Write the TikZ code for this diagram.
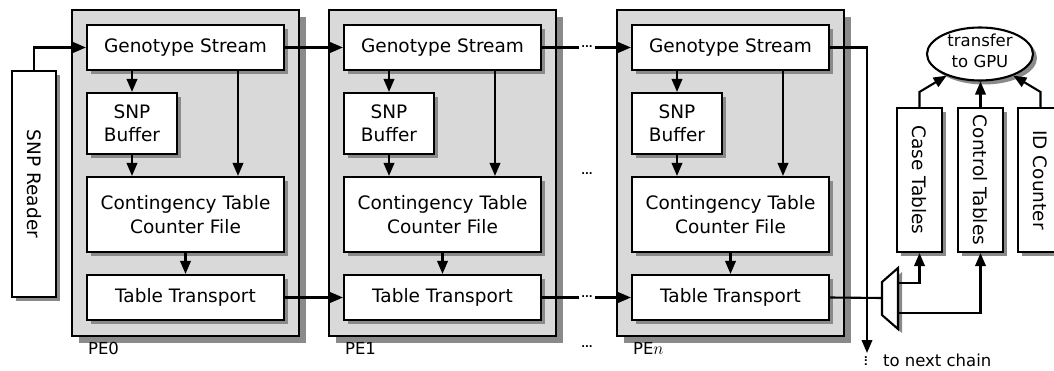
\documentclass[tikz,border=0pt]{standalone}
\usepackage{fontspec}
\setmainfont{DejaVu Sans}
\usetikzlibrary{arrows.meta,shapes.geometric,shadows,calc}
\definecolor{pegrey}{HTML}{D9D9D9}
\definecolor{shadowgrey}{HTML}{8A8A8A}
\begin{document}
\begin{tikzpicture}[x=1pt,y=-1pt,
  line width=2.1pt,
  >={Triangle[length=13pt,width=10.5pt]},
  mainfont/.style={font=\fontsize{18.5}{23.5}\selectfont},
  smallfont/.style={font=\fontsize{16.5}{21}\selectfont},
  smallshadow/.style={drop shadow={shadow xshift=4pt, shadow yshift=-4pt, fill=shadowgrey, opacity=1}},
  box/.style={draw, fill=white, inner sep=0pt, mainfont, align=center, smallshadow},
  pebox/.style={draw, fill=pegrey, inner sep=0pt, minimum width=227pt, minimum height=326pt,
    drop shadow={shadow xshift=7pt, shadow yshift=-7pt, fill=shadowgrey, opacity=1}},
  pelabel/.style={smallfont, inner sep=0pt, anchor=base west},
  dotsnode/.style={font=\fontsize{10}{10}\selectfont\bfseries, inner sep=1.5pt},
  vtext/.style={mainfont, rotate=-90, inner sep=0pt}
]
\path[use as bounding box, clip] (0,0) rectangle (1054,371);
\fill[white] (0,0) rectangle (1054,371);

% SNP reader
\node[box, minimum width=44pt, minimum height=226pt] (reader) at (34,184) {};
\node[vtext] (readertext) at (reader) {SNP Reader};

% processing elements
\foreach \i/\dx/\lab in {0/0/PE0, 1/257/PE1, n/545/PE$n$} {
  \node[pebox] (pe\i) at (185.5+\dx,173) {};
  \node[box, minimum width=197pt, minimum height=45pt] (gs\i) at (185.5+\dx,47.5) {Genotype Stream};
  \node[box, minimum width=90pt, minimum height=61pt] (snp\i) at (132+\dx,123.5) {SNP\\Buffer};
  \node[box, minimum width=197pt, minimum height=75pt] (ct\i) at (185.5+\dx,214.5) {Contingency Table\\Counter File};
  \node[box, minimum width=197pt, minimum height=45pt] (tt\i) at (185.5+\dx,297.5) {Table Transport};
  \node[pelabel] (lab\i) at (87+\dx,354) {\lab};
  \coordinate (c\i) at (238+\dx,0);
  \draw[->] (snp\i.north |- gs\i.south) -- (snp\i.north);
  \draw[->] (snp\i.south) -- (snp\i.south |- ct\i.north);
  \draw[->] (c\i |- gs\i.south) -- (c\i |- ct\i.north);
  \draw[->] (ct\i.south) -- (tt\i.north);
}

% dots between PE1 and PEn
\node[dotsnode] (dgs) at (587,47) {...};
\node[dotsnode] (dmid) at (587,174) {...};
\node[dotsnode] (dtt) at (587,297) {...};
\node[dotsnode] (dlab) at (587,347) {...};

% chain connections
\draw[->] (reader.north) |- (gs0.west);
\draw[->] (gs0.east) -- (gs1.west);
\draw[->] (tt0.east) -- (tt1.west);
\draw (gs1.east) -- (gs1.east -| dgs.west);
\draw[->] (gsn.west -| dgs.east) -- (gsn.west);
\draw (tt1.east) -- (tt1.east -| dtt.west);
\draw[->] (ttn.west -| dtt.east) -- (ttn.west);

% to next chain
\coordinate (nextend) at (867,353);
\draw[->] (gsn.east) -| (nextend);
\node[dotsnode, rotate=90] (dnext) at (866,361) {...};
\node[pelabel] (nextlab) at (882,366) {to next chain};

% result tables
\node[box, minimum width=45pt, minimum height=144pt] (case) at (919.5,180) {};
\node[vtext] (casetext) at (case) {Case Tables};
\node[box, minimum width=45pt, minimum height=144pt] (ctrl) at (980.5,180) {};
\node[vtext] (ctrltext) at (ctrl) {Control Tables};
\node[box, minimum width=45pt, minimum height=144pt] (idc) at (1040.5,180) {};
\node[vtext] (idctext) at (idc) {ID Counter};

% transfer to GPU
\node[ellipse, draw, fill=white, inner sep=0pt, minimum width=106pt, minimum height=53pt, smallshadow] (gpu) at (980,54) {};
\node[smallfont, align=center, inner sep=0pt] (gputext) at (980,51) {transfer\\to GPU};
\draw[->] (case.north) -- ++(0,-15) -- (gpu.213);
\draw[->] (ctrl.north) -- (ctrl.north |- gpu.south);
\draw[->] (idc.north) -- ++(0,-15) -- (gpu.327);

% demultiplexer
\draw[fill=white, smallshadow] (882,282) -- (898,268) -- (898,329) -- (882,315) -- cycle;
\coordinate (muxin) at (882,298);
\coordinate (muxa) at (898,283);
\coordinate (muxb) at (898,313);
\draw (ttn.east) -- (muxin);
\draw[->] (muxa) -| (case.south);
\draw[->] (muxb) -| (ctrl.south);
\end{tikzpicture}
\end{document}
